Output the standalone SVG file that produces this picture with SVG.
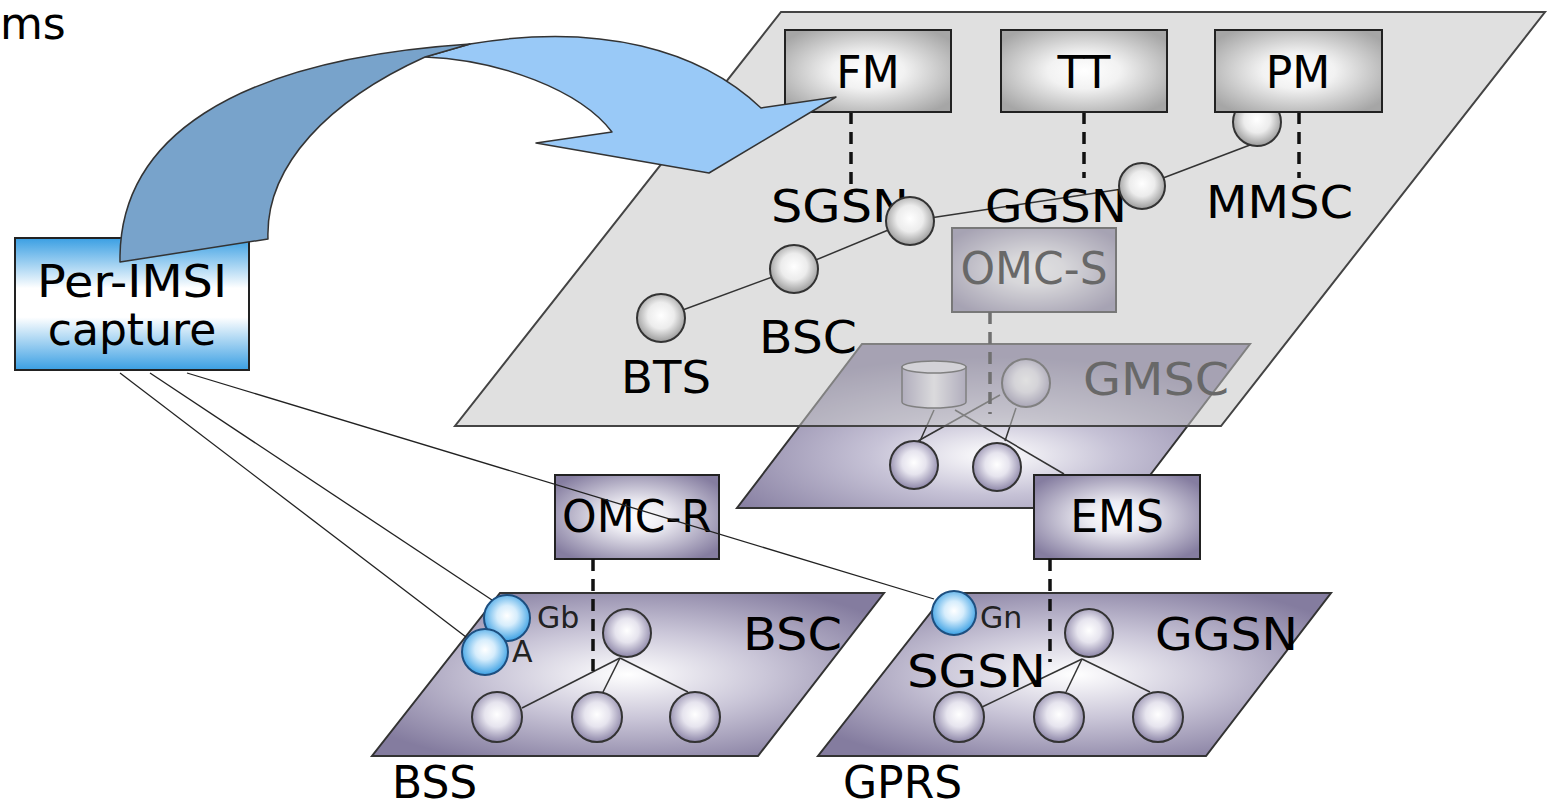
<svg xmlns="http://www.w3.org/2000/svg" width="1551" height="805" viewBox="0 0 1551 805">
  <defs>
    <style>
      .lbl { font-family: "DejaVu Sans", Verdana, sans-serif; font-size: 44px; fill: #000; }
      .sm { font-family: "DejaVu Sans", Verdana, sans-serif; font-size: 30px; fill: #222; }
      .box { stroke: #222; stroke-width: 2; }
      .plane { stroke: #333; stroke-width: 2; fill: url(#planeGrad); }
      .ball { stroke: #333; stroke-width: 2; }
      .link { stroke: #333; stroke-width: 1.5; fill: none; }
      .dash { stroke: #111; stroke-width: 3.5; stroke-dasharray: 12 8; fill: none; }
      .wire { stroke: #222; stroke-width: 1.3; fill: none; }
    </style>
    <linearGradient id="blueBox" x1="0" y1="0" x2="0" y2="1">
      <stop offset="0" stop-color="#3a9fe3"/>
      <stop offset="0.38" stop-color="#ffffff"/>
      <stop offset="0.6" stop-color="#ffffff"/>
      <stop offset="1" stop-color="#3a9fe3"/>
    </linearGradient>
    <radialGradient id="grayBox" cx="0.5" cy="0.5" r="0.62">
      <stop offset="0" stop-color="#ffffff"/>
      <stop offset="0.35" stop-color="#f2f2f2"/>
      <stop offset="1" stop-color="#a6a6a6"/>
    </radialGradient>
    <radialGradient id="purpleBox" cx="0.5" cy="0.5" r="0.62">
      <stop offset="0" stop-color="#ffffff"/>
      <stop offset="0.3" stop-color="#ecebf2"/>
      <stop offset="1" stop-color="#857da0"/>
    </radialGradient>
    <radialGradient id="planeGrad" cx="0.5" cy="0.5" r="0.6">
      <stop offset="0" stop-color="#ffffff"/>
      <stop offset="0.45" stop-color="#cac6d8"/>
      <stop offset="1" stop-color="#847c9f"/>
    </radialGradient>
    <radialGradient id="corePlaneGrad" cx="0.5" cy="0.68" r="0.6">
      <stop offset="0" stop-color="#ffffff"/>
      <stop offset="0.4" stop-color="#c6c2d6"/>
      <stop offset="1" stop-color="#847c9f"/>
    </radialGradient>
    <radialGradient id="grayBall" cx="0.5" cy="0.45" r="0.55">
      <stop offset="0" stop-color="#ffffff"/>
      <stop offset="0.5" stop-color="#ececec"/>
      <stop offset="1" stop-color="#9a9a9a"/>
    </radialGradient>
    <radialGradient id="purpleBall" cx="0.5" cy="0.45" r="0.55">
      <stop offset="0" stop-color="#ffffff"/>
      <stop offset="0.45" stop-color="#e6e4ee"/>
      <stop offset="1" stop-color="#8d86a8"/>
    </radialGradient>
    <radialGradient id="blueBall" cx="0.5" cy="0.45" r="0.55">
      <stop offset="0" stop-color="#ffffff"/>
      <stop offset="0.4" stop-color="#d6edfc"/>
      <stop offset="1" stop-color="#3aa0e4"/>
    </radialGradient>
    <linearGradient id="cylGrad" x1="0" y1="0" x2="1" y2="0">
      <stop offset="0" stop-color="#9a93b4"/>
      <stop offset="0.5" stop-color="#f4f3f8"/>
      <stop offset="1" stop-color="#9a93b4"/>
    </linearGradient>
  </defs>

  <!-- heading fragment -->
  <text class="lbl" x="0" y="39" font-size="40">ms</text>

  <!-- middle (circuit core) plane, seen through the service plane -->
  <g id="gmsc-plane">
    <polygon points="862,344 1250,344 1125,508 737,508" fill="url(#corePlaneGrad)" stroke="#333" stroke-width="2"/>
    <line class="link" x1="934" y1="410" x2="920" y2="441"/>
    <line class="link" x1="1000" y1="395" x2="918" y2="441"/>
    <line class="link" x1="1016" y1="408" x2="1005" y2="441"/>
    <line class="link" x1="955" y1="410" x2="1064" y2="474"/>
    <g id="gmsc-db">
      <path d="M902,367 L902,402 A32,6 0 0 0 966,402 L966,367 Z" fill="url(#cylGrad)" stroke="#333" stroke-width="1.5"/>
      <ellipse cx="934" cy="367" rx="32" ry="6" fill="#e4e2ec" stroke="#333" stroke-width="1.5"/>
    </g>
    <circle class="ball" cx="1026" cy="383" r="24" fill="url(#purpleBall)"/>
    <circle class="ball" cx="914" cy="465" r="24" fill="url(#purpleBall)"/>
    <circle class="ball" cx="997" cy="467" r="24" fill="url(#purpleBall)"/>
    <text class="lbl" x="1083" y="395" textLength="146" lengthAdjust="spacingAndGlyphs">GMSC</text>
  </g>
  <g id="omc-s">
    <rect class="box" x="952" y="228" width="164" height="84" fill="url(#purpleBox)"/>
    <text class="lbl" x="1034" y="284" text-anchor="middle">OMC-S</text>
    <line class="dash" x1="990" y1="312" x2="990" y2="414"/>
  </g>

  <!-- service management plane -->
  <g id="service-plane">
    <polygon points="781,12 1545,12 1221,426 455,426" fill="#c4c4c4" fill-opacity="0.53" stroke="#444" stroke-width="2"/>
  </g>

  <g id="service-links">
    <line class="link" x1="661" y1="318" x2="794" y2="269"/>
    <line class="link" x1="794" y1="269" x2="910" y2="221"/>
    <line class="link" x1="910" y1="221" x2="1142" y2="186"/>
    <line class="link" x1="1142" y1="186" x2="1250" y2="145"/>
    <line class="dash" x1="851" y1="112" x2="851" y2="195"/>
    <line class="dash" x1="1084" y1="112" x2="1084" y2="178"/>
    <line class="dash" x1="1299" y1="112" x2="1299" y2="178"/>
  </g>

  <g id="node-mmsc">
    <circle class="ball" cx="1257" cy="122" r="24" fill="url(#grayBall)"/>
    <text class="lbl" x="1206" y="218" textLength="147" lengthAdjust="spacingAndGlyphs">MMSC</text>
  </g>
  <g id="node-fm">
    <rect class="box" x="785" y="30" width="166" height="82" fill="url(#grayBox)"/>
    <text class="lbl" x="868" y="88" text-anchor="middle">FM</text>
  </g>
  <g id="node-tt">
    <rect class="box" x="1001" y="30" width="166" height="82" fill="url(#grayBox)"/>
    <text class="lbl" x="1084" y="88" text-anchor="middle">TT</text>
  </g>
  <g id="node-pm">
    <rect class="box" x="1215" y="30" width="167" height="82" fill="url(#grayBox)"/>
    <text class="lbl" x="1298" y="88" text-anchor="middle">PM</text>
  </g>
  <g id="node-sgsn">
    <text class="lbl" x="771" y="222" textLength="138" lengthAdjust="spacingAndGlyphs">SGSN</text>
    <circle class="ball" cx="910" cy="221" r="24" fill="url(#grayBall)"/>
  </g>
  <g id="node-ggsn">
    <text class="lbl" x="985" y="222" textLength="142" lengthAdjust="spacingAndGlyphs">GGSN</text>
    <circle class="ball" cx="1142" cy="186" r="23" fill="url(#grayBall)"/>
  </g>
  <g id="node-bsc">
    <circle class="ball" cx="794" cy="269" r="24" fill="url(#grayBall)"/>
    <text class="lbl" x="759" y="353" textLength="98" lengthAdjust="spacingAndGlyphs">BSC</text>
  </g>
  <g id="node-bts">
    <circle class="ball" cx="661" cy="318" r="24" fill="url(#grayBall)"/>
    <text class="lbl" x="621" y="393" textLength="90" lengthAdjust="spacingAndGlyphs">BTS</text>
  </g>

  <!-- capture source -->
  <g id="per-imsi">
    <rect class="box" x="15" y="238" width="234" height="132" fill="url(#blueBox)"/>
    <text class="lbl" x="132" y="297" text-anchor="middle" textLength="190" lengthAdjust="spacingAndGlyphs">Per-IMSI</text>
    <text class="lbl" x="132" y="345" text-anchor="middle">capture</text>
  </g>

  <!-- twisted ribbon arrow into the service plane -->
  <g id="feed-arrow" stroke="#333" stroke-width="1.5" stroke-linejoin="round">
    <path d="M425,57 L470,44 C600,22 700,50 761,108 L836,97 L709,173 L536,143 L612,132 C580,90 500,60 425,57 Z" fill="#99c9f7"/>
    <path d="M120,262 C118,140 230,60 470,44 L425,57 C330,100 265,165 268,239 Z" fill="#78a3cb"/>
  </g>

  <!-- access and packet planes -->
  <g id="bss-plane">
    <polygon class="plane" points="500,593 884,593 758,756 372,756"/>
    <line class="link" x1="620" y1="658" x2="522" y2="708"/>
    <line class="link" x1="620" y1="658" x2="603" y2="692"/>
    <line class="link" x1="620" y1="658" x2="688" y2="692"/>
    <circle class="ball" cx="627" cy="633" r="24" fill="url(#purpleBall)"/>
    <circle class="ball" cx="497" cy="717" r="25" fill="url(#purpleBall)"/>
    <circle class="ball" cx="597" cy="717" r="25" fill="url(#purpleBall)"/>
    <circle class="ball" cx="695" cy="717" r="25" fill="url(#purpleBall)"/>
    <text class="lbl" x="743" y="650" textLength="99" lengthAdjust="spacingAndGlyphs">BSC</text>
    <text class="lbl" x="392" y="798" font-size="42">BSS</text>
  </g>
  <g id="gprs-plane">
    <polygon class="plane" points="946,593 1331,593 1206,756 818,756"/>
    <line class="link" x1="1082" y1="659" x2="980" y2="708"/>
    <line class="link" x1="1082" y1="659" x2="1066" y2="692"/>
    <line class="link" x1="1082" y1="659" x2="1150" y2="692"/>
    <circle class="ball" cx="1089" cy="633" r="24" fill="url(#purpleBall)"/>
    <circle class="ball" cx="959" cy="717" r="25" fill="url(#purpleBall)"/>
    <circle class="ball" cx="1059" cy="717" r="25" fill="url(#purpleBall)"/>
    <circle class="ball" cx="1158" cy="717" r="25" fill="url(#purpleBall)"/>
    <text class="lbl" x="1155" y="650" textLength="143" lengthAdjust="spacingAndGlyphs">GGSN</text>
    <text class="lbl" x="907" y="687" textLength="139" lengthAdjust="spacingAndGlyphs">SGSN</text>
    <text class="lbl" x="843" y="798" font-size="42">GPRS</text>
  </g>

  <g id="omc-r">
    <rect class="box" x="555" y="475" width="164" height="84" fill="url(#purpleBox)"/>
    <text class="lbl" x="637" y="532" text-anchor="middle">OMC-R</text>
    <line class="dash" x1="593" y1="559" x2="593" y2="675"/>
  </g>
  <g id="ems">
    <rect class="box" x="1034" y="475" width="166" height="84" fill="url(#purpleBox)"/>
    <text class="lbl" x="1117" y="532" text-anchor="middle">EMS</text>
    <line class="dash" x1="1050" y1="559" x2="1050" y2="662"/>
  </g>

  <!-- capture taps -->
  <g id="connectors">
    <line class="wire" x1="120" y1="373" x2="466" y2="637"/>
    <line class="wire" x1="150" y1="373" x2="492" y2="600"/>
    <line class="wire" x1="187" y1="373" x2="934" y2="599"/>
  </g>
  <g id="tap-gb">
    <circle cx="507" cy="618" r="23" fill="url(#blueBall)" stroke="#1d4f80" stroke-width="2"/>
    <text class="sm" x="537" y="628">Gb</text>
  </g>
  <g id="tap-a">
    <circle cx="485" cy="652" r="23" fill="url(#blueBall)" stroke="#1d4f80" stroke-width="2"/>
    <text class="sm" x="512" y="662">A</text>
  </g>
  <g id="tap-gn">
    <circle cx="954" cy="613" r="22" fill="url(#blueBall)" stroke="#1d4f80" stroke-width="2"/>
    <text class="sm" x="980" y="628">Gn</text>
  </g>
</svg>
